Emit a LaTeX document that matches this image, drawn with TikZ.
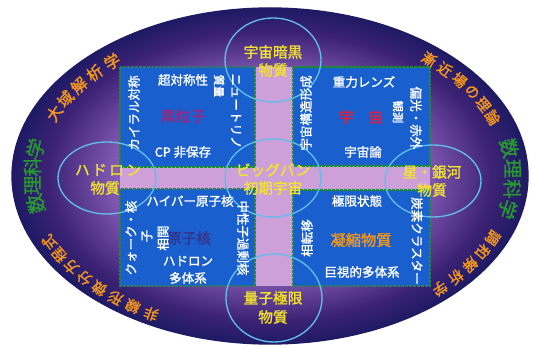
\documentclass[tikz,border=0pt]{standalone}
\usepackage{fontspec}
\newfontfamily\jp{Noto Sans CJK JP}
\newfontfamily\jpb{Noto Sans CJK JP}[FakeBold=1.5]
\definecolor{gin}{RGB}{212,172,226}
\definecolor{gmid}{RGB}{130,90,180}
\definecolor{gout}{RGB}{60,34,116}
\definecolor{grim}{RGB}{30,26,100}
\definecolor{crossc}{RGB}{205,160,218}
\definecolor{bbl}{RGB}{25,95,205}
\definecolor{bgr}{RGB}{35,135,60}
\definecolor{ringc}{RGB}{95,190,235}
\definecolor{ylw}{RGB}{242,228,45}
\definecolor{orng}{RGB}{245,152,28}
\definecolor{grn}{RGB}{40,150,50}
\definecolor{mag}{RGB}{150,40,130}
\definecolor{redc}{RGB}{225,30,60}
\definecolor{navy}{RGB}{55,50,140}
\pgfdeclareradialshading{glow}{\pgfpoint{0bp}{0bp}}{color(0bp)=(gin); color(5bp)=(gin); color(15bp)=(gmid); color(21.5bp)=(gout); color(25bp)=(grim); color(50bp)=(grim)}
\newcommand\rimtext[6]{%
  \foreach \cc [count=\ii from 0] in {#6} {%
    \pgfmathsetmacro\myt{#3+\ii*(#4)}%
    \path (270,176) ++({#1*cos(\myt)},{-#2*sin(\myt)})
      node[#5, rotate={atan2(sin(\myt)/#2, cos(\myt)/#1)-90}] {\cc};
  }}
\begin{document}
\begin{tikzpicture}[x=0.75pt,y=-0.75pt,
  box/.style={fill=bbl, draw=bgr, dash pattern=on 2pt off 1pt, line width=0.9pt},
  ring/.style={draw=ringc, line width=1pt},
  wt/.style={text=white, font=\jpb\fontsize{9.4}{11}\selectfont, inner sep=0pt},
  yt/.style={text=ylw, font=\jpb\fontsize{11}{13}\selectfont, inner sep=0pt},
  rimo/.style={text=orng, font=\jpb\fontsize{#1}{#1}\selectfont, inner sep=0pt},
  rimg/.style={text=grn, font=\jpb\fontsize{14.5}{14.5}\selectfont, inner sep=0pt}]
\useasboundingbox (0,0) rectangle (533,348);
\fill[white] (0,0) rectangle (533,348);
% big ellipse
\shade[shading=glow] (270,176) ellipse [x radius=193.5pt, y radius=126pt];
\draw[grim, line width=1pt] (270,176) ellipse [x radius=193.5pt, y radius=126pt];
% cross
\fill[crossc] (120,67) rectangle (430,286);
% boxes
\draw[box] (120,67) rectangle (255,167);
\draw[box] (293,67) rectangle (430,166);
\draw[box] (120,189) rectangle (255,286);
\draw[box] (293,190) rectangle (430,286);
% rings
\draw[ring] (273,60) ellipse [x radius=36pt, y radius=31.5pt];
\draw[ring] (107,178) ellipse [x radius=36.75pt, y radius=27pt];
\draw[ring] (433,181) ellipse [x radius=36pt, y radius=27pt];
\draw[ring] (273,178) ellipse [x radius=36pt, y radius=29.25pt];
\draw[ring] (274,298) ellipse [x radius=36pt, y radius=33pt];
% ring labels
\node[yt] (c1a) at (273,52) {宇宙暗黒};
\node[yt] (c1b) at (273,70) {物質};
\node[yt] (c2a) at (108,170) {ハ\,ド\,ロ\,ン};
\node[yt] (c2b) at (105,188) {物質};
\node[yt] (c3a) at (432,172) {星・銀河};
\node[yt] (c3b) at (432,190) {物質};
\node[yt] (c4a) at (273,170) {ビッグバン};
\node[yt] (c4b) at (273,188) {初期宇宙};
\node[yt] (c5a) at (273,298) {量子極限};
\node[yt] (c5b) at (273,317) {物質};
% top-left box
\node[wt] (tl1) at (183,80) {超対称性};
\node[text=mag, font=\jpb\fontsize{11.3}{13}\selectfont, inner sep=0pt] (tl2) at (183,116) {素粒子};
\node[wt] (tl3) at (183,152) {CP 非保存};
\node[wt, rotate=90] (tl4) at (134,113) {カイラル対称};
\node[wt, rotate=-90] (tl5) at (236,111) {ニュートリノ};
\node[wt, rotate=-90, font=\jpb\fontsize{8.5}{10}\selectfont] (tl6) at (219,86) {質量};
% top-right box
\node[wt] (tr1) at (364,82) {重力レンズ};
\node[text=redc, font=\jpb\fontsize{11}{13}\selectfont, inner sep=0pt] (tr2) at (361,117) {宇\hspace{1em}宙};
\node[wt] (tr3) at (363,152) {宇宙論};
\node[wt, rotate=90] (tr4) at (306,113) {宇宙構造形成};
\node[wt, rotate=-90] (tr5) at (416,118) {偏光・赤外};
\node[wt, rotate=-90, font=\jpb\fontsize{8.5}{10}\selectfont] (tr6) at (398,112) {観測};
% bottom-left box
\node[wt] (bl1) at (190,201) {ハイパー原子核};
\node[text=navy, font=\jpb\fontsize{11}{13}\selectfont, inner sep=0pt] (bl2) at (189,238) {原子核};
\node[wt] (bl3) at (188,261) {ハドロン};
\node[wt] (bl4) at (188,278) {多体系};
\node[wt, rotate=90] (bl5) at (131,238) {クォーク・核};
\node[wt, rotate=90] (bl6) at (147,236) {子};
\node[wt, rotate=90] (bl7) at (163,238) {相関};
\node[wt, rotate=-90] (bl8) at (243,238) {中性子過剰核};
% bottom-right box
\node[wt] (br1) at (357,201) {極限状態};
\node[text=orng, font=\jpb\fontsize{11.5}{13}\selectfont, inner sep=0pt] (br2) at (361,240) {凝縮物質};
\node[wt] (br3) at (362,272) {巨視的多体系};
\node[wt, rotate=90] (br4) at (307,238) {相転移};
\node[wt, rotate=-90] (br5) at (417,241) {炭素クラスター};
% rim texts
\rimtext{236}{154}{156}{-6}{rimo=11.8}{大,域,解,析,学}
\rimtext{240}{156}{48.5}{-5.3}{rimo=10.8}{漸,近,場,の,理,論}
\rimtext{243}{160}{10}{-7.33}{rimg}{数,理,科,学}
\rimtext{238}{160}{190}{-6.67}{rimg}{数,理,科,学}
\rimtext{243}{158}{240.7}{-5.13}{rimo=10.8}{非,線,形,微,分,方,程,式}
\rimtext{242}{158}{-23}{-5.6}{rimo=10.8}{調,和,解,析,学}
\end{tikzpicture}
\end{document}
